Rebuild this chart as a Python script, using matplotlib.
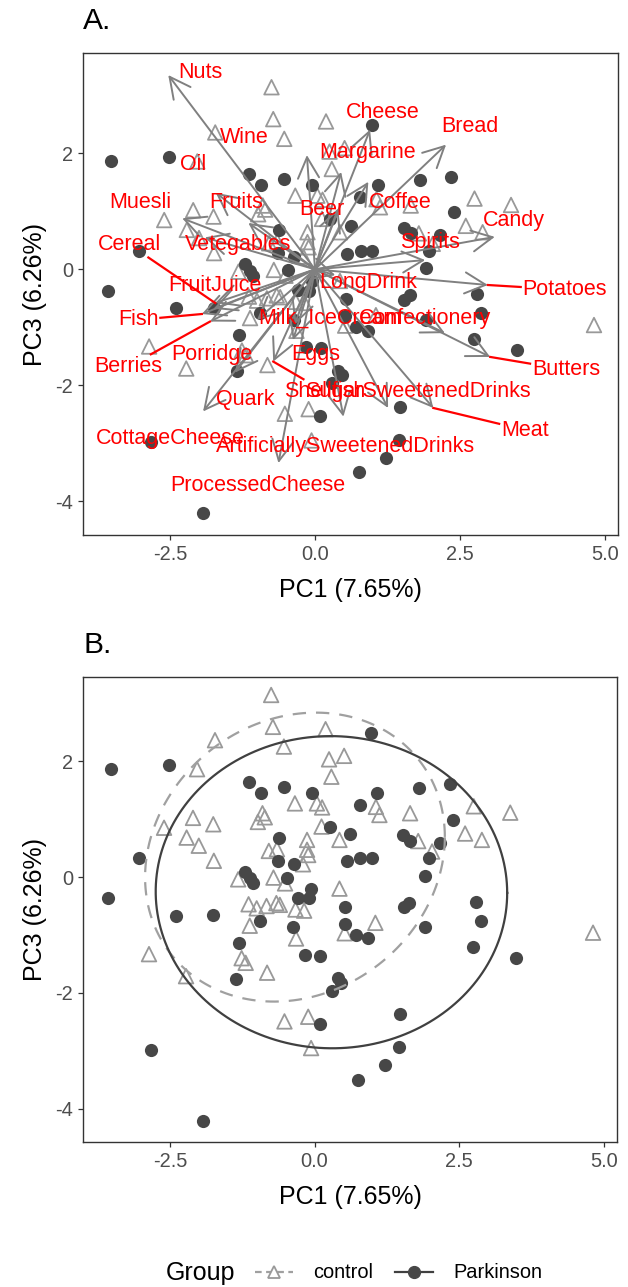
import numpy as np
import matplotlib
matplotlib.use("Agg")
import matplotlib.pyplot as plt
from matplotlib.lines import Line2D

plt.rcParams["font.family"] = ["Liberation Sans", "DejaVu Sans"]
plt.rcParams["axes.unicode_minus"] = False

# PCA scores (PC1, PC3) per subject
control_pc1 = [-0.75, -0.72, 0.19, -1.72, -0.53, -2.03, 0.25, 0.51, 0.29, -0.34,
               0.04, 0.13, -0.90, -0.98, -2.10, -1.75, -2.60, -2.21, -2.00, -1.74,
               0.12, -0.13, -0.79, -0.65, -0.13, -0.11, 0.43, -0.20, -1.32, -0.71,
               -0.51, 0.43, -1.14, -1.00, -0.83, -0.66, -0.60, -0.33, -0.18, 1.06,
               1.12, 1.65, 2.75, 3.38, 2.60, 2.89, 1.79, 2.03, 1.05, -1.12,
               -0.32, 0.52, -1.26, -1.19, -0.82, -2.86, -2.22, -0.52, -0.11, -0.06,
               4.81, -0.86]
control_pc3 = [3.14, 2.59, 2.55, 2.36, 2.25, 1.86, 2.03, 2.09, 1.73, 1.27,
               1.27, 1.20, 1.10, 0.95, 1.02, 0.91, 0.85, 0.68, 0.54, 0.28,
               0.87, 0.64, 0.45, 0.48, 0.47, 0.38, 0.64, 0.22, -0.04, -0.01,
               -0.11, -0.20, -0.47, -0.54, -0.50, -0.45, -0.48, -0.56, -0.58, 1.21,
               1.07, 1.10, 1.22, 1.11, 0.75, 0.64, 0.62, 0.44, -0.79, -0.84,
               -1.06, -0.97, -1.40, -1.48, -1.65, -1.33, -1.71, -2.49, -2.41, -2.95,
               -0.96, 1.03]

park_pc1 = [-3.51, -2.51, -1.14, -0.93, -0.53, -0.05, 0.26, -0.62, -3.04, -0.63,
            -0.36, -1.21, -1.12, -1.07, -0.47, -3.57, -0.06, -0.29, -0.10, 0.53,
            -2.40, -1.75, 0.62, 0.56, 0.98, 1.81, 2.34, 1.08, 0.78, 2.39,
            1.53, 1.65, 2.16, 0.79, 0.99, 1.97, 1.91, 2.79, 1.54, 1.63,
            2.87, -0.94, -0.37, 0.52, -1.31, -0.16, 0.10, -1.35, 0.40, 0.46,
            0.30, 0.09, -2.83, -1.93, 0.71, 0.92, 1.91, 2.74, 3.48, 1.47,
            1.45, 1.22, 0.75]
park_pc3 = [1.86, 1.93, 1.64, 1.45, 1.55, 1.45, 0.87, 0.67, 0.32, 0.28,
            0.22, 0.09, -0.02, -0.11, -0.01, -0.37, -0.20, -0.36, -0.37, -0.51,
            -0.67, -0.66, 0.75, 0.27, 2.49, 1.54, 1.60, 1.45, 1.25, 0.99,
            0.72, 0.62, 0.59, 0.32, 0.32, 0.32, 0.02, -0.43, -0.52, -0.45,
            -0.76, -0.75, -0.87, -0.81, -1.14, -1.34, -1.36, -1.76, -1.75, -1.83,
            -1.96, -2.53, -2.98, -4.20, -1.00, -1.06, -0.87, -1.20, -1.39, -2.37,
            -2.94, -3.25, -3.50]

# loadings (arrow tips) and where the repelled labels ended up
foods = ["Nuts", "Cheese", "Bread", "Wine", "Margarine", "Oil", "Muesli", "Fruits",
         "Beer", "Coffee", "Candy", "Cereal", "Vetegables", "Spirits", "Potatoes",
         "FruitJuice", "LongDrink", "Fish", "Milk_IceCream", "Confectionery",
         "Berries", "Porridge", "Eggs", "Butters", "Shellfish", "SugarSweetenedDrinks",
         "Quark", "Meat", "CottageCheese", "ArtificiallySweetenedDrinks", "ProcessedCheese"]
load_pc1 = [-2.53, 0.95, 2.26, -0.14, 0.45, -1.71, -2.29, -1.15,
            0.40, 0.92, 3.10, -1.72, -1.90, 1.90, 2.98,
            -1.75, 0.35, -1.95, -0.35, 2.24,
            -1.81, -1.00, -0.38, 3.02, -0.72, 1.26,
            -1.38, 2.04, -1.93, 0.49, -0.63]
load_pc3 = [3.35, 2.41, 2.15, 1.97, 1.68, 1.32, 0.88, 0.80,
            1.05, 1.51, 0.56, -0.58, 0.55, 0.16, -0.27,
            -0.68, -0.10, -0.77, -0.95, -1.10,
            -0.90, -0.87, -1.22, -1.51, -1.59, -2.39,
            -1.78, -2.39, -2.45, -2.54, -3.34]
label_pc1 = [-1.97, 1.16, 2.67, -1.22, 0.90, -2.10, -3.02, -1.36,
             0.12, 1.47, 3.43, -3.19, -1.33, 1.98, 4.31,
             -1.72, 0.91, -3.05, 0.26, 1.90,
             -3.22, -1.78, 0.02, 4.33, 0.17, 1.78,
             -1.21, 3.62, -2.50, 0.52, -0.98]
label_pc3 = [3.39, 2.70, 2.46, 2.28, 2.01, 1.80, 1.15, 1.15,
             1.03, 1.16, 0.85, 0.42, 0.42, 0.46, -0.35,
             -0.27, -0.22, -0.87, -0.84, -0.84,
             -1.68, -1.47, -1.47, -1.73, -2.11, -2.11,
             -2.25, -2.77, -2.91, -3.06, -3.73]
with_segment = ["Cereal", "Fish", "Berries", "Potatoes", "Butters", "Meat", "Shellfish"]

CTRL_COL = "#999999"
PARK_COL = "#474747"
ARROW_COL = "#808080"


def trob_ellipse(x, y, level=0.9, nu=5, n_seg=200):
    # t-distribution ellipse like ggplot2::stat_ellipse (MASS::cov.trob)
    X = np.column_stack([x, y])
    n, p = X.shape
    loc = X.mean(axis=0)
    w = np.ones(n)
    for _ in range(25):
        w0 = w
        Xc = X - loc
        S = (Xc * (w / w.sum())[:, None]).T @ Xc
        Q = np.einsum("ij,jk,ik->i", Xc, np.linalg.inv(S), Xc)
        w = (nu + p) / (nu + Q)
        loc = (w[:, None] * X).sum(axis=0) / w.sum()
        if np.all(np.abs(w - w0) < 0.01):
            break
    Xc = X - loc
    cov = (Xc * w[:, None]).T @ Xc / n
    d = n - 1
    fq = d / 2 * ((1 - level) ** (-2 / d) - 1)
    radius = np.sqrt(2 * fq)
    chol = np.linalg.cholesky(cov).T
    ang = np.linspace(0, 2 * np.pi, n_seg)
    circ = np.column_stack([np.cos(ang), np.sin(ang)])
    el = loc + radius * circ @ chol
    return el[:, 0], el[:, 1]


def style_axes(ax, ylim):
    ax.set_xlim(-4.0, 5.224)
    ax.set_ylim(*ylim)
    ax.set_xticks([-2.5, 0, 2.5, 5.0])
    ax.set_xticklabels(["-2.5", "0.0", "2.5", "5.0"])
    ax.set_yticks([-4, -2, 0, 2])
    ax.tick_params(labelsize=14.4, labelcolor="#4d4d4d", color="#333333",
                   length=3.5, width=0.9)
    for s in ax.spines.values():
        s.set_color("#333333")
        s.set_linewidth(1.0)
    ax.set_xlabel("PC1 (7.65%)", fontsize=18, labelpad=10)
    ax.set_ylabel("PC3 (6.26%)", fontsize=18, labelpad=6)


def draw_points(ax):
    ax.scatter(control_pc1, control_pc3, marker="^", s=110, facecolors="none",
               edgecolors=CTRL_COL, linewidths=1.3, zorder=2)
    ax.scatter(park_pc1, park_pc3, marker="o", s=90, color=PARK_COL,
               linewidths=0, zorder=2)


def biplot(fig, ax):
    draw_points(ax)
    for x, y in zip(load_pc1, load_pc3):
        ax.annotate("", xy=(x, y), xytext=(0, 0),
                    arrowprops=dict(arrowstyle="->,head_length=0.75,head_width=0.38",
                                    color=ARROW_COL, lw=1.4, mutation_scale=20,
                                    shrinkA=0, shrinkB=0), zorder=3)
    texts = {}
    for name, lx, ly in zip(foods, label_pc1, label_pc3):
        texts[name] = ax.text(lx, ly, name, color="red", fontsize=15.5,
                              ha="center", va="center", zorder=5)

    # segments from the arrow tip to the edge of the repelled label
    fig.canvas.draw()
    r = fig.canvas.get_renderer()
    inv = ax.transData.inverted()
    for name in with_segment:
        i = foods.index(name)
        bb = texts[name].get_window_extent(r)
        tip = ax.transData.transform((load_pc1[i], load_pc3[i]))
        c = np.array([(bb.x0 + bb.x1) / 2, (bb.y0 + bb.y1) / 2])
        d = c - tip
        s_in = 0.0
        for k, (lo, hi) in enumerate([(bb.x0 - 2, bb.x1 + 2), (bb.y0 - 2, bb.y1 + 2)]):
            if abs(d[k]) > 1e-9:
                s_in = max(s_in, min((lo - tip[k]) / d[k], (hi - tip[k]) / d[k]))
        end = tip + s_in * d
        p0 = inv.transform(tip)
        p1 = inv.transform(end)
        ax.plot([p0[0], p1[0]], [p0[1], p1[1]], color="red", lw=1.6, zorder=4)


def ellipse_plot(ax):
    draw_points(ax)
    ex, ey = trob_ellipse(control_pc1, control_pc3)
    ax.plot(ex, ey, color="#a0a0a0", lw=1.6, ls=(0, (6, 4.5)), zorder=3)
    ex, ey = trob_ellipse(park_pc1, park_pc3)
    ax.plot(ex, ey, color="#404040", lw=1.6, zorder=3)


def main():
    W, H = 628, 1287
    fig = plt.figure(figsize=(W / 100, H / 100), dpi=100)

    ax_a = fig.add_axes([83 / W, 1 - 535 / H, 535 / W, 482 / H])
    style_axes(ax_a, (-4.58, 3.73))
    biplot(fig, ax_a)
    fig.text(83 / W, 1 - 21 / H, "A.", fontsize=21.6, va="center", ha="left")

    ax_b = fig.add_axes([83 / W, 1 - 1142 / H, 534 / W, 465 / H])
    style_axes(ax_b, (-4.57, 3.45))
    ellipse_plot(ax_b)
    fig.text(83 / W, 1 - 645 / H, "B.", fontsize=21.6, va="center", ha="left")

    # legend at the bottom
    y_leg = 1 - 1273 / H
    fig.text(166 / W, y_leg, "Group", fontsize=18, va="center", ha="left")
    handles = [
        Line2D([], [], color="#a0a0a0", ls=(0, (3, 2)), lw=1.6, marker="^",
               markersize=9, markerfacecolor="white", markeredgecolor=CTRL_COL,
               markeredgewidth=1.3),
        Line2D([], [], color="#404040", lw=1.6, marker="o", markersize=8.5,
               markerfacecolor=PARK_COL, markeredgecolor=PARK_COL),
    ]
    fig.legend(handles, ["control", "Parkinson"], loc="center left",
               bbox_to_anchor=(255 / W, y_leg), ncol=2, frameon=False,
               fontsize=14.4, handlelength=1.9, handletextpad=1.0,
               columnspacing=1.1, borderpad=0, borderaxespad=0)

    fig.savefig("out.png", dpi=100)


if __name__ == "__main__":
    main()
